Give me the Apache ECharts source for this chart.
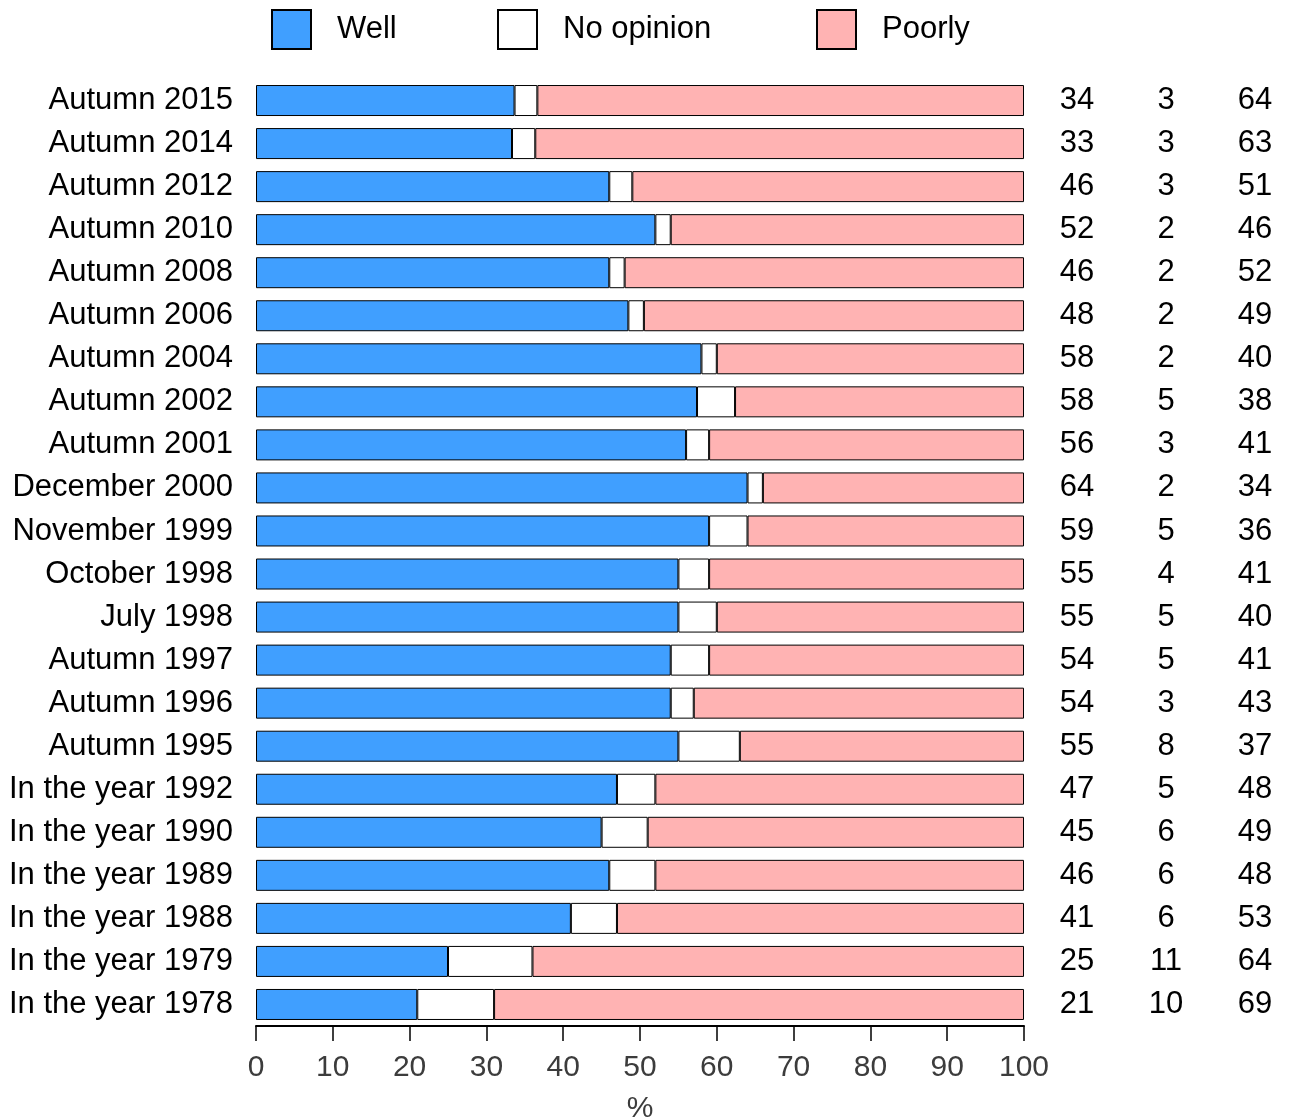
<!DOCTYPE html>
<html>
<head>
<meta charset="utf-8">
<script src="https://cdn.jsdelivr.net/npm/echarts@6/dist/echarts.min.js"></script>
<style>html,body{margin:0;padding:0;background:#fff}#c{width:1292px;height:1120px}</style>
</head>
<body>
<div id="c"></div>
<script>
const categories = ["Autumn 2015","Autumn 2014","Autumn 2012","Autumn 2010","Autumn 2008","Autumn 2006","Autumn 2004","Autumn 2002","Autumn 2001","December 2000","November 1999","October 1998","July 1998","Autumn 1997","Autumn 1996","Autumn 1995","In the year 1992","In the year 1990","In the year 1989","In the year 1988","In the year 1979","In the year 1978"];
const well =      [34,33,46,52,46,48,58,58,56,64,59,55,55,54,54,55,47,45,46,41,25,21];
const noOpinion = [3,3,3,2,2,2,2,5,3,2,5,4,5,5,3,8,5,6,6,6,11,10];
const poorly =    [64,63,51,46,52,49,40,38,41,34,36,41,40,41,43,37,48,49,48,53,64,69];
const xTicks = [0,10,20,30,40,50,60,70,80,90,100];

const FONT = "'Liberation Sans', Arial, Helvetica, sans-serif";
const totals = well.map((w,i)=>w+noOpinion[i]+poorly[i]);
const norm = arr => arr.map((v,i)=>v/totals[i]*100);

const chart = echarts.init(document.getElementById('c'), null, {renderer:'canvas'});

function rightAxis(arr, margin){
  return {
    type:'category', data:categories, inverse:true, position:'right', gridIndex:0,
    axisLine:{show:false}, axisTick:{show:false}, splitLine:{show:false},
    axisLabel:{margin:margin, align:'center', fontSize:31, color:'#000', fontFamily:FONT,
      formatter:(v,i)=>String(arr[i])}
  };
}
function legendAt(name, left){
  return {
    data:[name], left:left, top:9, padding:0, itemWidth:39, itemHeight:39, orient:'horizontal',
    icon:'rect',
    textStyle:{fontSize:31, color:'#000', fontFamily:FONT, padding:[0,0,0,21]}
  };
}
const itemBorder = {borderColor:'#000', borderWidth:1};

chart.setOption({
  animation:false,
  backgroundColor:'#fff',
  textStyle:{fontFamily:FONT},
  legend:[legendAt('Well',271), legendAt('No opinion',497), legendAt('Poorly',816)],
  grid:{left:256, right:268, top:79, height:947, containLabel:false, outerBoundsMode:'none'},
  xAxis:{
    type:'value', min:0, max:100, interval:10,
    name:'%', nameLocation:'middle', nameGap:68,
    nameTextStyle:{fontSize:30, color:'#3c3c3c', fontFamily:FONT},
    axisLine:{show:true, lineStyle:{color:'#000', width:2}},
    axisTick:{show:true, length:15, lineStyle:{color:'#000', width:1.5}},
    splitLine:{show:false},
    axisLabel:{fontSize:30, color:'#3c3c3c', margin:27, fontFamily:FONT,
      formatter:v=>xTicks.includes(v)?String(v):''}
  },
  yAxis:[
    {type:'category', data:categories, inverse:true,
      axisLine:{show:false}, axisTick:{show:false}, splitLine:{show:false},
      axisLabel:{fontSize:31, color:'#000', margin:23, fontFamily:FONT}},
    rightAxis(well, 53),
    rightAxis(noOpinion, 142),
    rightAxis(poorly, 231)
  ],
  series:[
    {name:'Well', type:'bar', stack:'s', yAxisIndex:0, barCategoryGap:'28%', data:norm(well),
      itemStyle:Object.assign({color:'#409FFF'}, itemBorder)},
    {name:'No opinion', type:'bar', stack:'s', yAxisIndex:0, barCategoryGap:'28%', data:norm(noOpinion),
      itemStyle:Object.assign({color:'#FFFFFF'}, itemBorder)},
    {name:'Poorly', type:'bar', stack:'s', yAxisIndex:0, barCategoryGap:'28%', data:norm(poorly),
      itemStyle:Object.assign({color:'#FFB3B3'}, itemBorder)}
  ]
});
</script>
</body>
</html>
